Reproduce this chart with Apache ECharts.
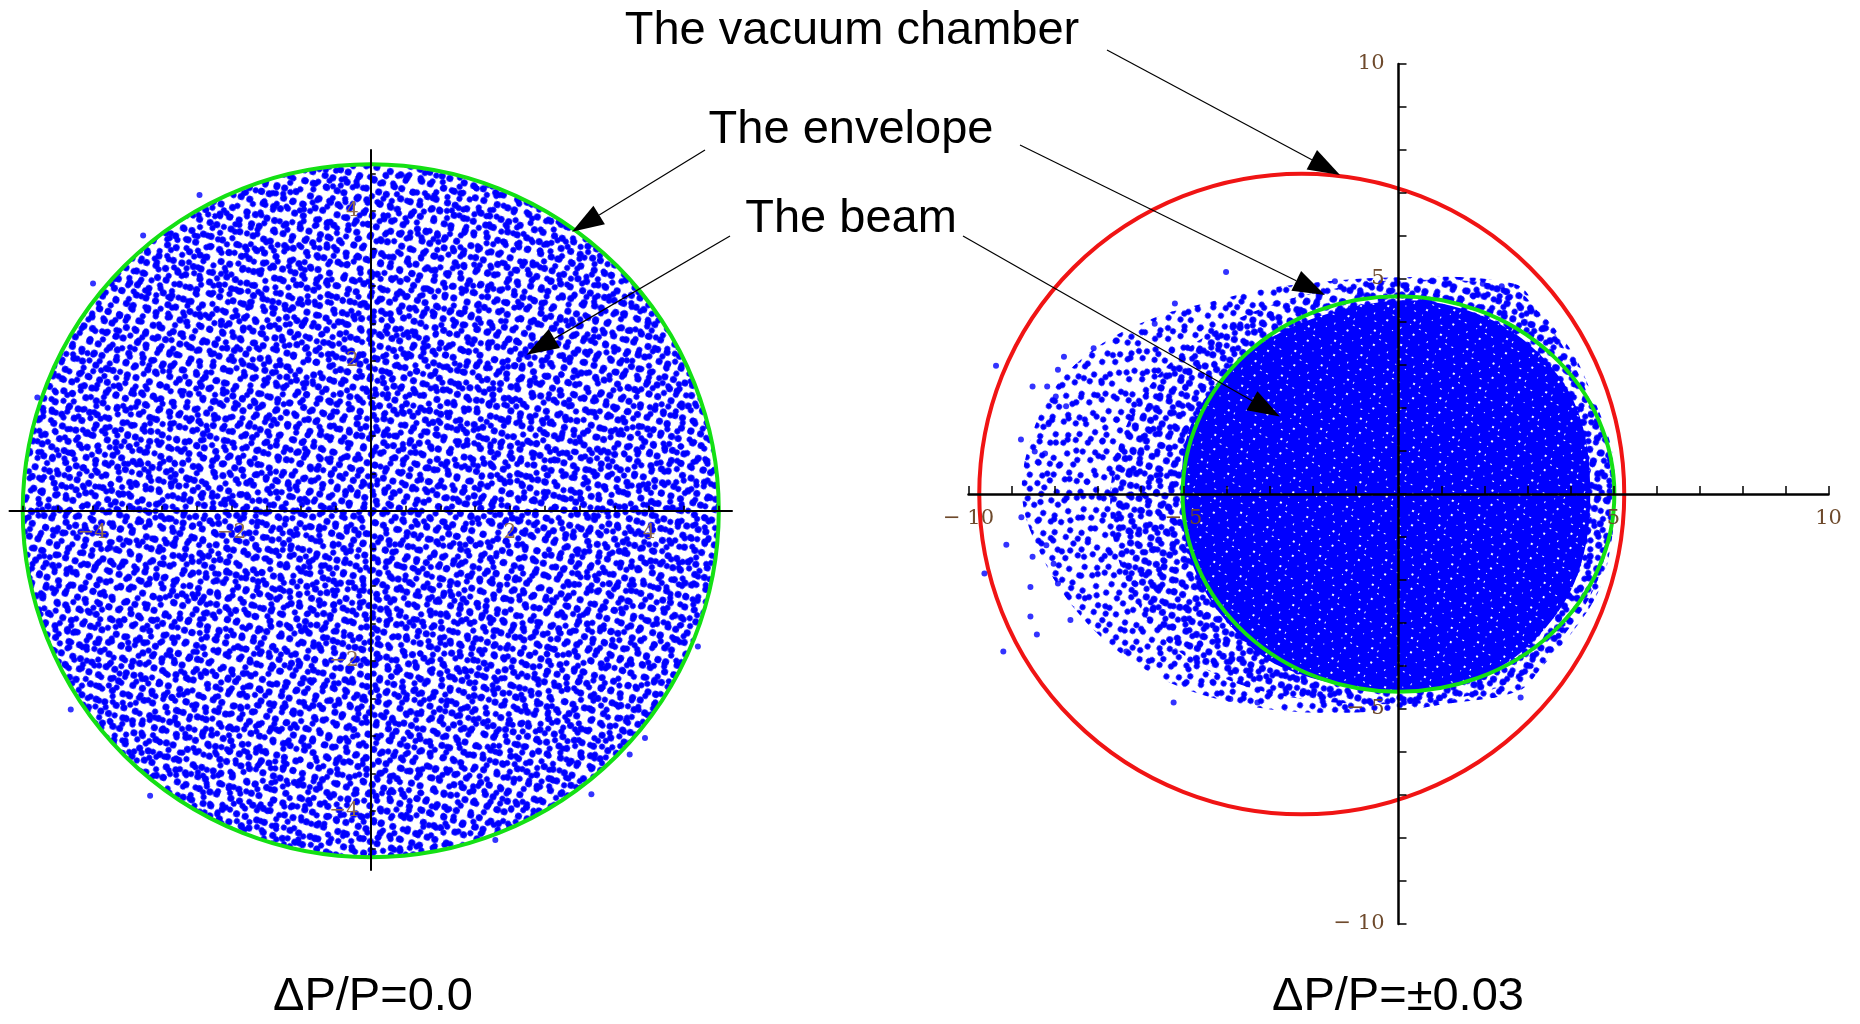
<!DOCTYPE html>
<html>
<head>
<meta charset="utf-8">
<title>Beam and envelope</title>
<script src="https://cdn.jsdelivr.net/npm/echarts@6/dist/echarts.min.js"></script>
<style>
  html, body { margin: 0; padding: 0; background: #fff; }
  #chart { width: 1860px; height: 1024px; }
</style>
</head>
<body>
<div id="chart"></div>
<script>
// ---- data (axis units) ----
// ellipses: [cx, cy, rx, ry]
var envelopeLeft = [[0, 0, 5.0, 4.62]];
var envelopeRight = [[0, 0, 5.02, 4.6]];
var chamberRight = [[-2.25, 0, 7.5, 7.45]];

// outline of the dense core of the beam (right plot)
var beamCoreRight = [
  [0, 4.5], [1.81, 4.2], [3.18, 3.35], [4.16, 1.96], [4.46, 0], [4.16, -1.89],
  [3.28, -3.27], [2.01, -4.2], [0, -4.58], [-2.69, -4.04], [-4.06, -2.89],
  [-4.84, -1.5], [-5.04, -0.04], [-4.84, 1.58], [-3.86, 2.96], [-2.3, 3.96]
];
// outline of the medium density part
var beamMidRight = [
  [0, 4.97], [2.6, 4.81], [3.28, 4.2], [3.97, 3.2], [4.46, 2.19], [4.85, 1.12],
  [4.94, 0], [4.85, -1.19], [4.55, -2.19], [3.97, -3.12], [3.28, -3.89], [2.5, -4.43],
  [1.03, -4.81], [0, -4.89], [-1.91, -4.81], [-3.47, -4.5], [-4.65, -3.97],
  [-5.62, -3.19], [-6.21, -2.27], [-6.6, -1.19], [-6.7, 0], [-6.5, 1.12],
  [-6.01, 2.19], [-5.23, 3.12], [-4.25, 3.81], [-3.08, 4.35], [-1.71, 4.73]
];
// outline of the sparse halo
var beamHaloRight = [
  [0, 5.04], [2.69, 4.89], [3.28, 4.27], [4.06, 3.27], [4.55, 2.19], [4.94, 1.12],
  [5.04, 0], [4.94, -1.19], [4.65, -2.27], [4.06, -3.19], [3.38, -3.97], [2.79, -4.58],
  [1.03, -4.89], [0, -5.04], [-2.69, -5.04], [-4.84, -4.58], [-6.31, -3.81],
  [-7.48, -2.73], [-8.27, -1.5], [-8.75, -0.12], [-8.56, 1.27], [-7.97, 2.5],
  [-6.99, 3.43], [-5.62, 4.12], [-4.25, 4.5], [-2.88, 4.81]
];
// single particles that stand apart from the cloud
var strayLeft = [
  [-3.27, 3.67], [-4.79, 1.51], [-2.46, 4.21], [-3.99, 3.03], [-3.17, -3.8],
  [-4.31, -2.65], [3.72, -3.25], [3.94, -3.03], [4.7, -1.81], [1.79, -4.39], [3.17, -3.78]
];
var strayRight = [
  [-9.36, 2.98], [-9.63, -1.85], [-9.19, -3.66], [-9.12, -1.18], [-8.77, -0.54],
  [-8.78, 1.27], [-8.22, 0.94], [-8.56, -2.85], [-8.41, -3.27], [-6.33, -3.66],
  [-5.23, -4.85], [-3.91, -4.77], [-3.28, -4.85], [2.84, -4.73], [-4.01, 5.16],
  [-1.48, 4.95], [1.96, 4.89], [2.4, 4.83], [-5.2, 4.43], [-5.67, 3.96],
  [-7.09, 3.39], [-7.78, 3.19], [-7.92, 2.89], [-8.51, 2.5], [-8.17, 2.5],
  [-7.97, 2.27], [-7.73, 2.04], [-8.14, 1.62], [-8.46, 0.99], [-8.19, -1.19],
  [-8.51, -1.46], [-8.02, -1.62], [-7.92, -2.08], [-8.56, -2.16], [-7.63, -2.93]
];

// ticks and labels
var leftTicksX = [-5, -4.5, -4, -3.5, -3, -2.5, -2, -1.5, -1, -0.5, 0.5, 1, 1.5, 2, 2.5, 3, 3.5, 4, 4.5, 5];
var leftTicksY = [-4.5, -4, -3.5, -3, -2.5, -2, -1.5, -1, -0.5, 0.5, 1, 1.5, 2, 2.5, 3, 3.5, 4, 4.5];
var leftLabels = [-4, -2, 2, 4];
var rightLabels = [-10, -5, 5, 10];

var captions = ['\u0394P/P=0.0', '\u0394P/P=\u00b10.03'];

// ---- styles ----
var BLUE = '#0000ff';
var GREEN = '#14e014';
var RED = '#f01414';
var CLEAR = 'rgba(0,0,0,0)';
var CIRCLE_PATH = 'M-1,0A1,1,0,1,0,1,0A1,1,0,1,0,-1,0Z';

// dot textures at different angles; laid over each other they look scattered
var dotsA = {
  symbol: 'circle', symbolSize: 1, color: BLUE, backgroundColor: CLEAR, rotation: 0.3,
  dashArrayX: [
    [7, 3, 7, 6, 7, 1, 7, 8, 7, 3],
    [0, 5, 7, 2, 7, 7, 7, 4, 7, 0, 7, 3],
    [7, 8, 7, 2, 7, 5, 7, 1, 7, 5]
  ],
  dashArrayY: [7, 4, 7, 6, 7, 3]
};
var dotsB = {
  symbol: 'circle', symbolSize: 1, color: BLUE, backgroundColor: CLEAR, rotation: -1.0,
  dashArrayX: [
    [6, 4, 6, 9, 6, 2, 6, 9],
    [0, 7, 6, 3, 6, 8, 6, 1, 6, 5],
    [6, 10, 6, 1, 6, 6, 6, 7]
  ],
  dashArrayY: [6, 5, 6, 3, 6, 6]
};
var dotsC = {
  symbol: 'circle', symbolSize: 1, color: BLUE, backgroundColor: CLEAR, rotation: 0.9,
  dashArrayX: [
    [6, 14, 6, 22, 6, 16],
    [0, 9, 6, 25, 6, 11, 6, 7],
    [6, 19, 6, 8, 6, 25]
  ],
  dashArrayY: [6, 6, 6, 8, 6, 5]
};
var specks = {
  symbol: 'rect', symbolSize: 1, color: '#ffffff', backgroundColor: CLEAR, rotation: 0.5,
  dashArrayX: [
    [2, 11, 1, 9, 2, 5],
    [0, 6, 1, 13, 2, 8],
    [1, 9, 2, 7, 1, 10],
    [0, 14, 2, 5, 1, 8]
  ],
  dashArrayY: [1, 6, 2, 5, 1, 7, 2, 4]
};

function ellipseItem(stroke, fill, decal) {
  return function (params, api) {
    var cx = api.value(0), cy = api.value(1), rx = api.value(2), ry = api.value(3);
    var p1 = api.coord([cx - rx, cy + ry]);
    var p2 = api.coord([cx + rx, cy - ry]);
    var style = { fill: fill || 'none', stroke: stroke || 'none', lineWidth: 4 };
    if (decal) style.decal = decal;
    return {
      type: 'path',
      shape: { pathData: CIRCLE_PATH, x: p1[0], y: p1[1], width: p2[0] - p1[0], height: p2[1] - p1[1], layout: 'cover' },
      style: style
    };
  };
}

function polygonItem(fill, decal) {
  return function (params, api) {
    if (params.dataIndexInside !== 0) return null;
    var pts = [];
    for (var i = 0; i < params.dataInsideLength; i++) {
      pts.push(api.coord([api.value(0, i), api.value(1, i)]));
    }
    var style = { fill: fill };
    if (decal) style.decal = decal;
    return { type: 'polygon', shape: { points: pts, smooth: 0.35 }, style: style };
  };
}

function minusFmt(spaced) {
  return function (v) {
    if (v < 0) return '\u2212' + (spaced ? ' ' : '') + Math.abs(v);
    return String(v);
  };
}

// value axis drawn through the origin of the other axis:
// shift it from the grid edge by the share of the other range below zero
function axis(gridIndex, range, otherRange, span, st, ticks) {
  var a = {
    type: 'value', gridIndex: gridIndex, min: range[0], max: range[1], z: 10,
    offset: -span * (0 - otherRange[0]) / (otherRange[1] - otherRange[0]),
    splitLine: { show: false },
    axisLine: { onZero: false, lineStyle: { color: '#000', width: st.lineWidth } },
    axisTick: { inside: true, length: st.tickLen, lineStyle: { color: '#000', width: 1.5 } },
    axisLabel: {
      color: st.labelColor, fontFamily: '"DejaVu Serif", serif', fontSize: st.fontSize,
      margin: st.margin, formatter: minusFmt(st.spaced), customValues: st.labels
    }
  };
  if (ticks) a.axisTick.customValues = ticks;
  if (st.interval) a.interval = st.interval;
  return a;
}

var leftGrid = { left: 9.5, top: 150, width: 722.5, height: 720, outerBoundsMode: 'none' };
var rightGrid = { left: 968.5, top: 64, width: 860, height: 860, outerBoundsMode: 'none' };
var leftX = [-5.19, 5.19], leftY = [-4.79, 4.81];
var rightX = [-10, 10], rightY = [-10, 10];
var leftStyle = { lineWidth: 2, tickLen: 5, labelColor: '#8e6a50', fontSize: 20, margin: 12, labels: leftLabels };
var rightStyle = { lineWidth: 2.5, tickLen: 8, labelColor: '#6e4a2c', fontSize: 21, margin: 14, interval: 1, labels: rightLabels, spaced: true };

function beamFill(axisIdx, data, render) {
  return { type: 'custom', xAxisIndex: axisIdx, yAxisIndex: axisIdx, data: data, renderItem: render };
}

var chart = echarts.init(document.getElementById('chart'), null, { renderer: 'canvas' });

chart.setOption({
  backgroundColor: '#ffffff',
  animation: false,
  grid: [leftGrid, rightGrid],
  xAxis: [
    axis(0, leftX, leftY, leftGrid.height, leftStyle, leftTicksX),
    axis(1, rightX, rightY, rightGrid.height, rightStyle, null)
  ],
  yAxis: [
    axis(0, leftY, leftX, leftGrid.width, leftStyle, leftTicksY),
    axis(1, rightY, rightX, rightGrid.width, rightStyle, null)
  ],
  series: [
    // left: uniform beam filling the envelope
    beamFill(0, envelopeLeft, ellipseItem(null, CLEAR, dotsA)),
    beamFill(0, envelopeLeft, ellipseItem(null, CLEAR, dotsB)),
    beamFill(0, envelopeLeft, ellipseItem(null, CLEAR, dotsC)),
    { type: 'scatter', xAxisIndex: 0, yAxisIndex: 0, data: strayLeft, symbolSize: 6,
      itemStyle: { color: BLUE } },
    beamFill(0, envelopeLeft, ellipseItem(GREEN, null, null)),

    // right: beam with momentum spread
    beamFill(1, beamHaloRight, polygonItem(CLEAR, dotsC)),
    beamFill(1, beamHaloRight, polygonItem(CLEAR, dotsB)),
    beamFill(1, beamMidRight, polygonItem(CLEAR, dotsA)),
    beamFill(1, beamCoreRight, polygonItem(BLUE, specks)),
    { type: 'scatter', xAxisIndex: 1, yAxisIndex: 1, data: strayRight, symbolSize: 6,
      itemStyle: { color: BLUE } },
    beamFill(1, envelopeRight, ellipseItem(GREEN, null, null)),
    beamFill(1, chamberRight, ellipseItem(RED, null, null))
  ]
});

// ---- annotations ----
var FONT = '47px "Liberation Sans", Arial, sans-serif';
var notes = [
  { text: 'The vacuum chamber', x: 852, y: 31 },
  { text: 'The envelope', x: 851, y: 130 },
  { text: 'The beam', x: 851, y: 219 },
  { text: captions[0], x: 373, y: 997 },
  { text: captions[1], x: 1398, y: 997 }
];
// arrows: start in pixels next to the text, tip in the axis units of a plot
var arrows = [
  { from: [1107, 50], grid: 1, tip: [-1.36, 7.42] },
  { from: [705, 150], grid: 0, tip: [2.89, 3.72] },
  { from: [1020, 145], grid: 1, tip: [-1.71, 4.63] },
  { from: [730, 236], grid: 0, tip: [2.24, 2.08] },
  { from: [963, 236], grid: 1, tip: [-2.76, 1.8] }
];

var graphics = [];
notes.forEach(function (n) {
  graphics.push({
    type: 'text', z: 100,
    style: { text: n.text, x: n.x, y: n.y, font: FONT, fill: '#000', textAlign: 'center', textVerticalAlign: 'middle' }
  });
});
arrows.forEach(function (a) {
  var t = chart.convertToPixel({ gridIndex: a.grid }, a.tip);
  var dx = t[0] - a.from[0], dy = t[1] - a.from[1];
  var len = Math.sqrt(dx * dx + dy * dy);
  var ux = dx / len, uy = dy / len;
  var headLen = 32, headW = 22;
  var bx = t[0] - ux * headLen, by = t[1] - uy * headLen;
  graphics.push({
    type: 'line', z: 100,
    shape: { x1: a.from[0], y1: a.from[1], x2: bx, y2: by },
    style: { stroke: '#000', lineWidth: 1.2 }
  });
  graphics.push({
    type: 'polygon', z: 100,
    shape: { points: [t, [bx - uy * headW / 2, by + ux * headW / 2], [bx + uy * headW / 2, by - ux * headW / 2]] },
    style: { fill: '#000' }
  });
});
chart.setOption({ graphic: graphics });
</script>
</body>
</html>
